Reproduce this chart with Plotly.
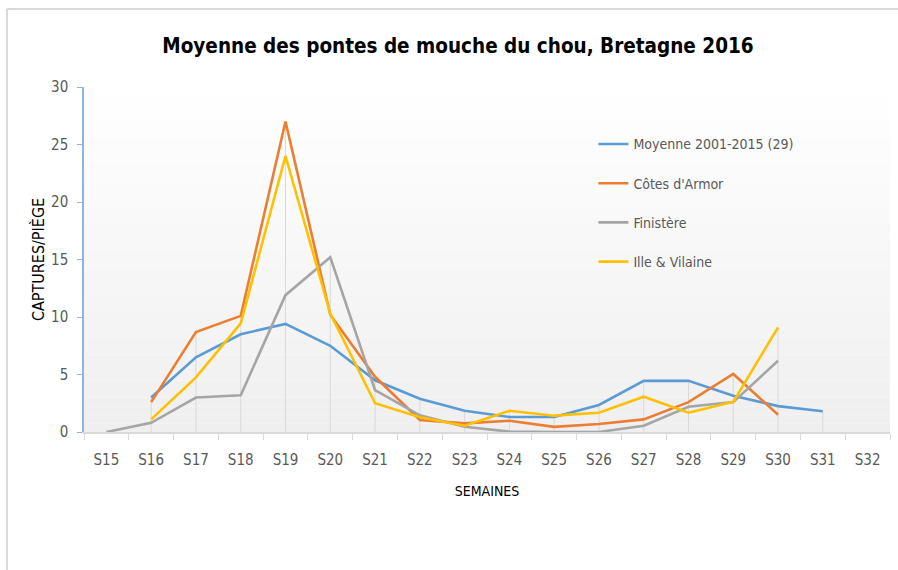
import plotly.graph_objects as go

weeks = ["S15", "S16", "S17", "S18", "S19", "S20", "S21", "S22", "S23",
         "S24", "S25", "S26", "S27", "S28", "S29", "S30", "S31", "S32"]

moyenne = [None, 3.0, 6.5, 8.5, 9.4, 7.5, 4.5, 2.9, 1.85, 1.3, 1.3, 2.35, 4.45, 4.45, 3.15, 2.25, 1.8, None]
cotes = [None, 2.6, 8.7, 10.1, 27.0, 10.2, 4.8, 1.05, 0.75, 0.98, 0.45, 0.7, 1.1, 2.6, 5.05, 1.5, None, None]
finistere = [0.0, 0.8, 3.0, 3.2, 11.9, 15.2, 3.65, 1.45, 0.45, 0.03, 0.0, 0.0, 0.55, 2.2, 2.6, 6.2, None, None]
ille = [None, 1.1, 4.75, 9.45, 24.0, 10.3, 2.5, 1.28, 0.55, 1.85, 1.42, 1.68, 3.07, 1.68, 2.62, 9.1, None, None]

series = [
    ("Moyenne 2001-2015 (29)", moyenne, "#5b9bd5"),
    ("Côtes d'Armor", cotes, "#ed7d31"),
    ("Finistère", finistere, "#a5a5a5"),
    ("Ille & Vilaine", ille, "#ffc000"),
]

FONT = "Liberation Sans Narrow, DejaVu Sans Condensed, Arial Narrow, sans-serif"

fig = go.Figure()

# Drop lines (from the highest point of each week down to the axis)
dx, dy = [], []
for i, w in enumerate(weeks):
    vals = [s[1][i] for s in series if s[1][i] is not None]
    if vals:
        dx += [w, w, None]
        dy += [0, max(vals), None]
fig.add_trace(go.Scatter(x=dx, y=dy, mode="lines", line=dict(color="#d9d9d9", width=1),
                         showlegend=False, hoverinfo="skip"))

for i, (name, vals, color) in enumerate(series):
    fig.add_trace(go.Scatter(x=weeks, y=vals, name=name, mode="lines",
                             line=dict(color=color, width=2.6),
                             legendgroup=f"g{i}", connectgaps=False))

# Gradient plot background
shapes = []
n = 40
for k in range(n):
    t = (k + 0.5) / n  # 0 bottom -> 1 top
    c = int(round(239 + (255 - 239) * t))
    shapes.append(dict(type="rect", xref="paper", yref="paper", x0=0, x1=1,
                       y0=k / n, y1=(k + 1) / n, fillcolor=f"rgb({c},{c},{c})",
                       line=dict(width=0), layer="below"))

# Outer frame (top and left edges)
shapes.append(dict(type="line", xref="paper", yref="paper", x0=-0.0955, x1=1.02,
                   y0=1.226, y1=1.226, line=dict(color="#d9d9d9", width=2)))
shapes.append(dict(type="line", xref="paper", yref="paper", x0=-0.0955, x1=-0.0955,
                   y0=1.226, y1=-0.42, line=dict(color="#d9d9d9", width=2)))

fig.update_layout(
    width=898, height=570,
    margin=dict(l=84, r=8, t=87, b=138),
    paper_bgcolor="white",
    plot_bgcolor="rgba(0,0,0,0)",
    shapes=shapes,
    title=dict(text="<b>Moyenne des pontes de mouche du chou, Bretagne 2016</b>",
               x=0.51, xanchor="center", y=0.92, yanchor="middle",
               font=dict(family=FONT, size=20.5, color="black")),
    legend=dict(x=0.632, y=0.88, xanchor="left", yanchor="top",
                bgcolor="rgba(0,0,0,0)", tracegroupgap=18,
                font=dict(family=FONT, size=14, color="#595959")),
    showlegend=True,
    xaxis=dict(type="category", categoryorder="array", categoryarray=weeks,
               range=[-0.5, len(weeks) - 0.5],
               showline=True, linecolor="#d9d9d9", linewidth=1.5,
               ticks="outside", tickson="boundaries", ticklen=6, tickcolor="#d9d9d9",
               ticklabelstandoff=13,
               showgrid=False, zeroline=False,
               tickfont=dict(family=FONT, size=15, color="#595959"),
               title=dict(text="SEMAINES", standoff=18,
                          font=dict(family=FONT, size=14, color="black"))),
    yaxis=dict(range=[0, 30], dtick=5, showline=True, linecolor="#8db4e2", linewidth=1.5,
               ticks="outside", ticklen=5, tickcolor="#8db4e2",
               ticklabelstandoff=6,
               showgrid=False, zeroline=False,
               tickfont=dict(family=FONT, size=15, color="#595959"),
               title=dict(text="CAPTURES/PIÈGE", standoff=2,
                          font=dict(family=FONT, size=16, color="black"))),
)

fig.write_html("out.html", config={"displayModeBar": False},
               post_script="document.body.style.margin='0';")
